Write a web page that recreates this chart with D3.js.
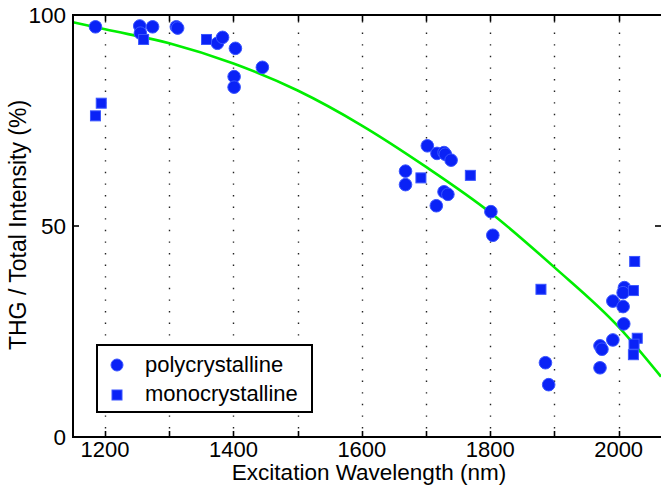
<!DOCTYPE html>
<html>
<head>
<meta charset="utf-8">
<script src="https://cdn.jsdelivr.net/npm/d3@7/dist/d3.min.js"></script>
<style>
  html, body { margin: 0; padding: 0; background: #fff; }
  svg { display: block; font-family: "Liberation Sans", Arial, Helvetica, sans-serif; }
</style>
</head>
<body>
<svg id="chart" width="661" height="488"></svg>
<script>
// ---- data ----
const polyX = [1185, 1254, 1255, 1274, 1311, 1313, 1375, 1383, 1403, 1401, 1401, 1445,
               1702, 1717, 1728, 1730, 1739, 1668, 1668, 1728, 1734, 1716, 1801, 1804,
               2009, 2007, 1991, 2007, 2008, 1991, 1971, 1974, 1971, 1886, 1891];
const polyY = [97.2, 97.4, 95.7, 97.2, 97.2, 96.9, 93.3, 94.7, 92.1, 85.4, 82.9, 87.6,
               69.0, 67.2, 67.4, 67.0, 65.6, 63.0, 59.8, 58.1, 57.5, 54.8, 53.4, 47.8,
               35.4, 34.2, 32.2, 30.9, 26.8, 23.0, 21.6, 20.8, 16.4, 17.6, 12.4];
const monoX = [1185, 1194, 1260, 1358, 1692, 1769, 2025, 1879, 2023, 2029, 2024, 2023];
const monoY = [76.1, 79.1, 94.2, 94.2, 61.4, 62.0, 41.6, 35.0, 34.7, 23.4, 22.0, 19.5];
const fitX = [1150, 1200, 1300, 1400, 1500, 1600, 1700, 1800, 1900, 2000, 2066];
const fitY = [98.3, 96.6, 93.3, 88.5, 82.1, 73.8, 64.0, 53.2, 40.2, 26.1, 14.3];
const xTicks = [1200, 1300, 1400, 1500, 1600, 1700, 1800, 1900, 2000];
const xTickLabels = ["1200", "", "1400", "", "1600", "", "1800", "", "2000"];
const yTicks = [0, 50, 100];
const seriesNames = ["polycrystalline", "monocrystalline"];

// ---- layout ----
const svg = d3.select("#chart");
const L = 73, T = 15, R = 661, B = 437;
const x = d3.scaleLinear().domain([1150, 2066]).range([L, R]);
const y = d3.scaleLinear().domain([0, 100]).range([B, T]);

const markFill = "#0a22f6", markStroke = "#3a55ff";

// gridlines (vertical dotted)
svg.append("g").selectAll("line").data(xTicks).join("line")
  .attr("x1", d => Math.round(x(d)) + 0.5).attr("x2", d => Math.round(x(d)) + 0.5)
  .attr("y1", T + 6).attr("y2", B - 6)
  .attr("stroke", "#222").attr("stroke-width", 1.4)
  .attr("stroke-dasharray", "1.4 10.2");

// fit curve
const fitData = fitX.map((v, i) => [v, fitY[i]]);
svg.append("path").datum(fitData)
  .attr("d", d3.line().x(d => x(d[0])).y(d => y(d[1])).curve(d3.curveMonotoneX))
  .attr("fill", "none").attr("stroke", "#00ee00").attr("stroke-width", 2.6);

// points
const gP = svg.append("g");
gP.selectAll("circle").data(polyX.map((v, i) => [v, polyY[i]])).join("circle")
  .attr("cx", d => x(d[0])).attr("cy", d => y(d[1])).attr("r", 6.3)
  .attr("fill", markFill).attr("stroke", markStroke).attr("stroke-width", 1);
const sq = 10;
gP.selectAll("rect").data(monoX.map((v, i) => [v, monoY[i]])).join("rect")
  .attr("x", d => x(d[0]) - sq / 2).attr("y", d => y(d[1]) - sq / 2)
  .attr("width", sq).attr("height", sq)
  .attr("fill", markFill).attr("stroke", markStroke).attr("stroke-width", 1);

// axes frame (left, bottom, top)
const ax = svg.append("g").attr("stroke", "#000").attr("stroke-width", 2);
ax.append("line").attr("x1", L).attr("x2", L).attr("y1", T - 1).attr("y2", B + 1);
ax.append("line").attr("x1", L - 1).attr("x2", R + 2).attr("y1", B).attr("y2", B);
ax.append("line").attr("x1", L - 1).attr("x2", R + 2).attr("y1", T).attr("y2", T);

// ticks
const tg = svg.append("g").attr("stroke", "#000").attr("stroke-width", 1.6);
xTicks.forEach(t => {
  const px = Math.round(x(t)) + 0.5;
  tg.append("line").attr("x1", px).attr("x2", px).attr("y1", B).attr("y2", B - 6);
  tg.append("line").attr("x1", px).attr("x2", px).attr("y1", T).attr("y2", T + 6);
});
yTicks.forEach(t => {
  tg.append("line").attr("x1", L).attr("x2", L + 6).attr("y1", y(t)).attr("y2", y(t));
  tg.append("line").attr("x1", R - 6).attr("x2", R).attr("y1", y(t)).attr("y2", y(t));
});

// tick labels
svg.append("g").selectAll("text").data(xTicks).join("text")
  .attr("x", d => x(d)).attr("y", 457)
  .attr("text-anchor", "middle").attr("font-size", 22)
  .text((d, i) => xTickLabels[i]);
svg.append("g").selectAll("text").data(yTicks).join("text")
  .attr("x", 66).attr("y", d => y(d) + 8)
  .attr("text-anchor", "end").attr("font-size", 22.5)
  .text(d => d);

// axis titles
svg.append("text").attr("x", 369).attr("y", 479.5)
  .attr("text-anchor", "middle").attr("font-size", 22.5)
  .text("Excitation Wavelength (nm)");
svg.append("text").attr("transform", "translate(26," + 225 + ") rotate(-90)")
  .attr("text-anchor", "middle").attr("font-size", 23)
  .text("THG / Total Intensity (%)");

// legend
const lg = svg.append("g");
lg.append("rect").attr("x", 97).attr("y", 345).attr("width", 215).attr("height", 67)
  .attr("fill", "#fff").attr("stroke", "#000").attr("stroke-width", 2);
lg.append("circle").attr("cx", 117).attr("cy", 365).attr("r", 6)
  .attr("fill", markFill).attr("stroke", markStroke).attr("stroke-width", 1);
lg.append("rect").attr("x", 112).attr("y", 390).attr("width", 10).attr("height", 10)
  .attr("fill", markFill).attr("stroke", markStroke).attr("stroke-width", 1);
lg.selectAll("text").data(seriesNames).join("text")
  .attr("x", 145).attr("y", (d, i) => 372 + i * 29)
  .attr("font-size", 22).text(d => d);
</script>
</body>
</html>
